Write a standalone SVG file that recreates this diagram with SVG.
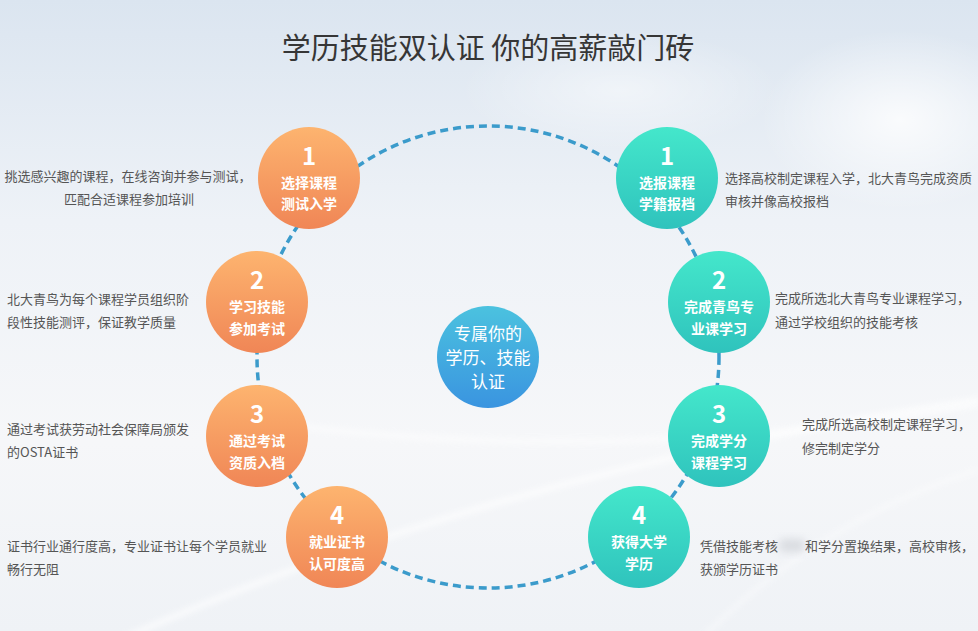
<svg xmlns="http://www.w3.org/2000/svg" width="978" height="631" viewBox="0 0 978 631">
<defs>
<linearGradient id="bg" x1="0" y1="0" x2="0" y2="1">
<stop offset="0" stop-color="#dbe5f0"/>
<stop offset="0.35" stop-color="#eef2f7"/>
<stop offset="0.7" stop-color="#f6f7f9"/>
<stop offset="1" stop-color="#eff2f6"/>
</linearGradient>
<radialGradient id="cloud" cx="0.5" cy="0.5" r="0.5">
<stop offset="0" stop-color="#ffffff" stop-opacity="0.8"/>
<stop offset="1" stop-color="#ffffff" stop-opacity="0"/>
</radialGradient>
<linearGradient id="og" x1="0" y1="0" x2="0" y2="1">
<stop offset="0" stop-color="#fdb46f"/>
<stop offset="1" stop-color="#f08656"/>
</linearGradient>
<linearGradient id="tg" x1="0" y1="0" x2="0" y2="1">
<stop offset="0" stop-color="#44e7cb"/>
<stop offset="1" stop-color="#2fc3bd"/>
</linearGradient>
<linearGradient id="bgc" x1="0" y1="0" x2="0" y2="1">
<stop offset="0" stop-color="#4bc2df"/>
<stop offset="1" stop-color="#3a94e0"/>
</linearGradient>
<filter id="soft" x="-20%" y="-20%" width="140%" height="140%">
<feGaussianBlur stdDeviation="3"/>
</filter>
<filter id="blob" x="-50%" y="-50%" width="200%" height="200%">
<feGaussianBlur stdDeviation="4"/>
</filter>
</defs>
<style>
.title{font-family:"Noto Sans CJK SC","Noto Sans",sans-serif;font-size:29px;fill:#363636;text-anchor:middle}
.desc{font-family:"Noto Sans CJK SC","Noto Sans",sans-serif;font-size:13px;fill:#555}
.num{font-family:"Noto Sans CJK SC","Liberation Sans",sans-serif;font-size:24px;font-weight:bold;fill:#fff;text-anchor:middle}
.lbl{font-family:"Noto Sans CJK SC","Noto Sans",sans-serif;font-size:14px;font-weight:bold;fill:#fff;text-anchor:middle}
.ctr{font-family:"Noto Sans CJK SC","Noto Sans",sans-serif;font-size:17px;fill:#fff;text-anchor:middle}
.ring{fill:none;stroke:#3b9bcb;stroke-width:3.5;stroke-dasharray:8 5}
</style>
<rect width="978" height="631" fill="url(#bg)"/>
<ellipse cx="900" cy="120" rx="140" ry="90" fill="url(#cloud)"/>
<ellipse cx="620" cy="90" rx="160" ry="60" fill="url(#cloud)" opacity="0.6"/>
<path d="M120 640 Q500 470 980 400" fill="none" stroke="#ffffff" stroke-width="5" opacity="0.8" filter="url(#soft)"/>
<path d="M250 420 Q600 470 978 405" fill="none" stroke="#ffffff" stroke-width="4" opacity="0.7" filter="url(#soft)"/>
<path d="M700 640 Q820 520 978 470" fill="none" stroke="#ffffff" stroke-width="3" opacity="0.6" filter="url(#soft)"/>
<text class="title" x="488" y="59">学历技能双认证 你的高薪敲门砖</text>
<g id="connectors">
<circle class="ring" cx="488" cy="357" r="231"/>
</g>
<g id="center">
<circle cx="488" cy="357" r="51" fill="url(#bgc)"/>
<text class="ctr" x="488" y="340">专属你的</text>
<text class="ctr" x="488" y="364">学历、技能</text>
<text class="ctr" x="488" y="388">认证</text>
</g>
<g id="left1">
<circle cx="309" cy="178" r="51" fill="url(#og)"/>
<text class="num" x="309" y="165">1</text>
<text class="lbl" x="309" y="188">选择课程</text>
<text class="lbl" x="309" y="209">测试入学</text>
<text class="desc" x="128" y="181" text-anchor="middle">挑选感兴趣的课程，在线咨询并参与测试，</text>
<text class="desc" x="129" y="204" text-anchor="middle">匹配合适课程参加培训</text>
</g>
<g id="left2">
<circle cx="257" cy="302" r="51" fill="url(#og)"/>
<text class="num" x="257" y="289">2</text>
<text class="lbl" x="257" y="312">学习技能</text>
<text class="lbl" x="257" y="334">参加考试</text>
<text class="desc" x="7" y="304">北大青鸟为每个课程学员组织阶</text>
<text class="desc" x="7" y="327">段性技能测评，保证教学质量</text>
</g>
<g id="left3">
<circle cx="257" cy="436" r="51" fill="url(#og)"/>
<text class="num" x="257" y="423">3</text>
<text class="lbl" x="257" y="446">通过考试</text>
<text class="lbl" x="257" y="468">资质入档</text>
<text class="desc" x="7" y="434">通过考试获劳动社会保障局颁发</text>
<text class="desc" x="7" y="457">的OSTA证书</text>
</g>
<g id="left4">
<circle cx="337" cy="537" r="51" fill="url(#og)"/>
<text class="num" x="337" y="524">4</text>
<text class="lbl" x="337" y="547">就业证书</text>
<text class="lbl" x="337" y="569">认可度高</text>
<text class="desc" x="7" y="551">证书行业通行度高，专业证书让每个学员就业</text>
<text class="desc" x="7" y="574">畅行无阻</text>
</g>
<g id="right1">
<circle cx="667" cy="178" r="51" fill="url(#tg)"/>
<text class="num" x="667" y="165">1</text>
<text class="lbl" x="667" y="188">选报课程</text>
<text class="lbl" x="667" y="209">学籍报档</text>
<text class="desc" x="725" y="183">选择高校制定课程入学，北大青鸟完成资质</text>
<text class="desc" x="725" y="206">审核并像高校报档</text>
</g>
<g id="right2">
<circle cx="719" cy="302" r="51" fill="url(#tg)"/>
<text class="num" x="719" y="289">2</text>
<text class="lbl" x="719" y="312">完成青鸟专</text>
<text class="lbl" x="719" y="334">业课学习</text>
<text class="desc" x="775" y="303">完成所选北大青鸟专业课程学习，</text>
<text class="desc" x="775" y="327">通过学校组织的技能考核</text>
</g>
<g id="right3">
<circle cx="719" cy="436" r="51" fill="url(#tg)"/>
<text class="num" x="719" y="423">3</text>
<text class="lbl" x="719" y="446">完成学分</text>
<text class="lbl" x="719" y="468">课程学习</text>
<text class="desc" x="802" y="429">完成所选高校制定课程学习，</text>
<text class="desc" x="802" y="453">修完制定学分</text>
</g>
<g id="right4">
<circle cx="639" cy="537" r="51" fill="url(#tg)"/>
<text class="num" x="639" y="524">4</text>
<text class="lbl" x="639" y="547">获得大学</text>
<text class="lbl" x="639" y="569">学历</text>
<text class="desc" x="700" y="551">凭借技能考核</text>
<rect x="779" y="539" width="26" height="13" rx="5" fill="#c9ccd2" opacity="0.6" filter="url(#blob)"/>
<text class="desc" x="805" y="551">和学分置换结果，高校审核，</text>
<text class="desc" x="700" y="574">获颁学历证书</text>
</g>
</svg>
